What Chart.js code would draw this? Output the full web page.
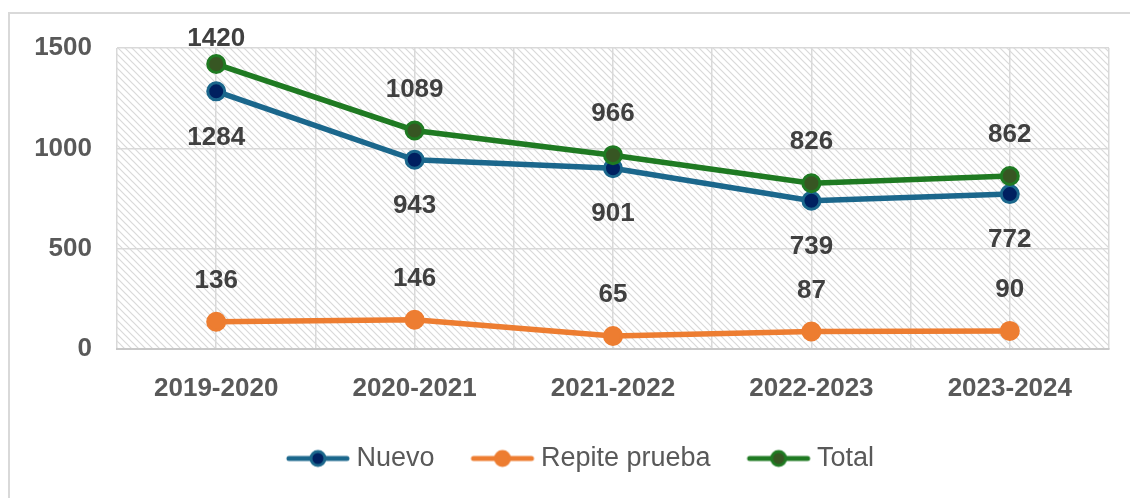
<!DOCTYPE html>
<html>
<head>
<meta charset="utf-8">
<script src="https://cdn.jsdelivr.net/npm/chart.js@4.4.1/dist/chart.umd.min.js"></script>
<style>
  html, body { margin: 0; padding: 0; background: #fff; }
  #wrap { width: 1130px; height: 498px; }
</style>
</head>
<body>
<div id="wrap"><canvas id="chart" width="1130" height="498"></canvas></div>
<script>
const years = ['2019-2020', '2020-2021', '2021-2022', '2022-2023', '2023-2024'];
const nuevo = [1284, 943, 901, 739, 772];
const repite = [136, 146, 65, 87, 90];
const total = [1420, 1089, 966, 826, 862];
const yTicks = [0, 500, 1000, 1500];

const gray = '#595959';
const gridColor = '#d9d9d9';

// legend marker: a line with a dot in the middle
function legendMarker(line, fill) {
  const c = document.createElement('canvas');
  c.width = 66; c.height = 22;
  const g = c.getContext('2d');
  g.strokeStyle = line;
  g.lineWidth = 5;
  g.lineCap = 'round';
  g.beginPath(); g.moveTo(4, 11); g.lineTo(62, 11); g.stroke();
  g.beginPath(); g.arc(33, 11, 7, 0, Math.PI * 2);
  g.fillStyle = fill; g.fill();
  g.lineWidth = 3; g.stroke();
  return c;
}

// hatched plot area and outer frame
const backdrop = {
  id: 'backdrop',
  afterLayout(chart) {
    // legend sits a bit right of centre in the original
    chart.legend.left += 29;
    chart.legend.right += 29;
  },
  beforeDraw(chart) {
    const { ctx, chartArea: a } = chart;
    ctx.save();
    ctx.strokeStyle = gridColor;
    ctx.lineWidth = 2;
    ctx.strokeRect(9, 13, 1300, 700);

    const t = document.createElement('canvas');
    const s = 7;
    t.width = s; t.height = s;
    const g = t.getContext('2d');
    g.strokeStyle = '#d9d9d9';
    g.lineWidth = 1.2;
    g.beginPath();
    g.moveTo(-1, -1); g.lineTo(s + 1, s + 1);
    g.moveTo(-1, s - 1); g.lineTo(1, s + 1);
    g.moveTo(s - 1, -1); g.lineTo(s + 1, 1);
    g.stroke();
    ctx.fillStyle = ctx.createPattern(t, 'repeat');
    ctx.fillRect(a.left, a.top, a.right - a.left, a.bottom - a.top);
    ctx.restore();
  }
};

// value labels above / below points
const valueLabels = {
  id: 'valueLabels',
  afterDatasetsDraw(chart) {
    const { ctx } = chart;
    ctx.save();
    ctx.font = 'bold 26px "Liberation Sans", Arial, sans-serif';
    ctx.fillStyle = '#404040';
    ctx.textAlign = 'center';
    ctx.textBaseline = 'middle';
    chart.data.datasets.forEach((ds, i) => {
      const meta = chart.getDatasetMeta(i);
      meta.data.forEach((pt, j) => {
        let y = pt.y + ds.labelShift;
        if (y < 39) y = 39;
        ctx.fillText(String(ds.data[j]), pt.x, y);
      });
    });
    ctx.restore();
  }
};

new Chart(document.getElementById('chart'), {
  type: 'line',
  data: {
    labels: years,
    datasets: [
      {
        label: 'Nuevo', data: nuevo, order: 1,
        borderColor: '#1b678c', backgroundColor: '#002060',
        pointBackgroundColor: '#002060', pointBorderColor: '#1b678c',
        labelShift: 46, marker: legendMarker('#1b678c', '#002060')
      },
      {
        label: 'Repite prueba', data: repite, order: 2,
        borderColor: '#ed7d31', backgroundColor: '#ed7d31',
        pointBackgroundColor: '#ed7d31', pointBorderColor: '#ed7d31',
        labelShift: -41, marker: legendMarker('#ed7d31', '#ed7d31')
      },
      {
        label: 'Total', data: total, order: 0,
        borderColor: '#1f7a22', backgroundColor: '#375623',
        pointBackgroundColor: '#375623', pointBorderColor: '#1f7a22',
        labelShift: -41, marker: legendMarker('#1f7a22', '#375623')
      }
    ]
  },
  options: {
    responsive: false,
    devicePixelRatio: 1,
    animation: false,
    layout: { padding: { top: 48, right: 21, left: 0, bottom: 16 } },
    elements: {
      line: { borderWidth: 5.5, tension: 0 },
      point: { radius: 8.5, borderWidth: 3, hoverRadius: 8.5 }
    },
    scales: {
      x: {
        offset: true,
        grid: { color: gridColor, lineWidth: 1.5, drawTicks: false, offset: false },
        border: { color: '#c8c8c8', width: 2 },
        ticks: {
          color: gray, padding: 24,
          font: { family: '"Liberation Sans", Arial, sans-serif', size: 26, weight: 'bold' }
        },
        afterFit(scale) { scale.height = 53; }
      },
      x2: {
        type: 'category',
        labels: years,
        position: 'bottom',
        offset: true,
        grid: { color: gridColor, lineWidth: 1.5, drawTicks: false, offset: true },
        border: { display: false },
        ticks: { display: false },
        afterFit(scale) { scale.height = 0; }
      },
      y: {
        min: 0, max: 1500,
        afterBuildTicks(scale) { scale.ticks = yTicks.map(v => ({ value: v })); },
        grid: { color: gridColor, lineWidth: 1.5, drawTicks: false },
        border: { display: false },
        ticks: {
          color: gray, padding: 25,
          callback: v => String(v),
          font: { family: '"Liberation Sans", Arial, sans-serif', size: 26, weight: 'bold' }
        },
        afterFit(scale) { scale.width = 117; }
      }
    },
    plugins: {
      tooltip: { enabled: false },
      legend: {
        position: 'bottom',
        labels: {
          usePointStyle: true,
          pointStyleWidth: 50,
          padding: 43,
          color: gray,
          font: { family: '"Liberation Sans", Arial, sans-serif', size: 27 },
          generateLabels(chart) {
            const items = Chart.defaults.plugins.legend.labels.generateLabels(chart);
            items.sort((a, b) => a.datasetIndex - b.datasetIndex);
            items.forEach(it => { it.pointStyle = chart.data.datasets[it.datasetIndex].marker; });
            return items;
          }
        }
      }
    }
  },
  plugins: [backdrop, valueLabels]
});
</script>
</body>
</html>
